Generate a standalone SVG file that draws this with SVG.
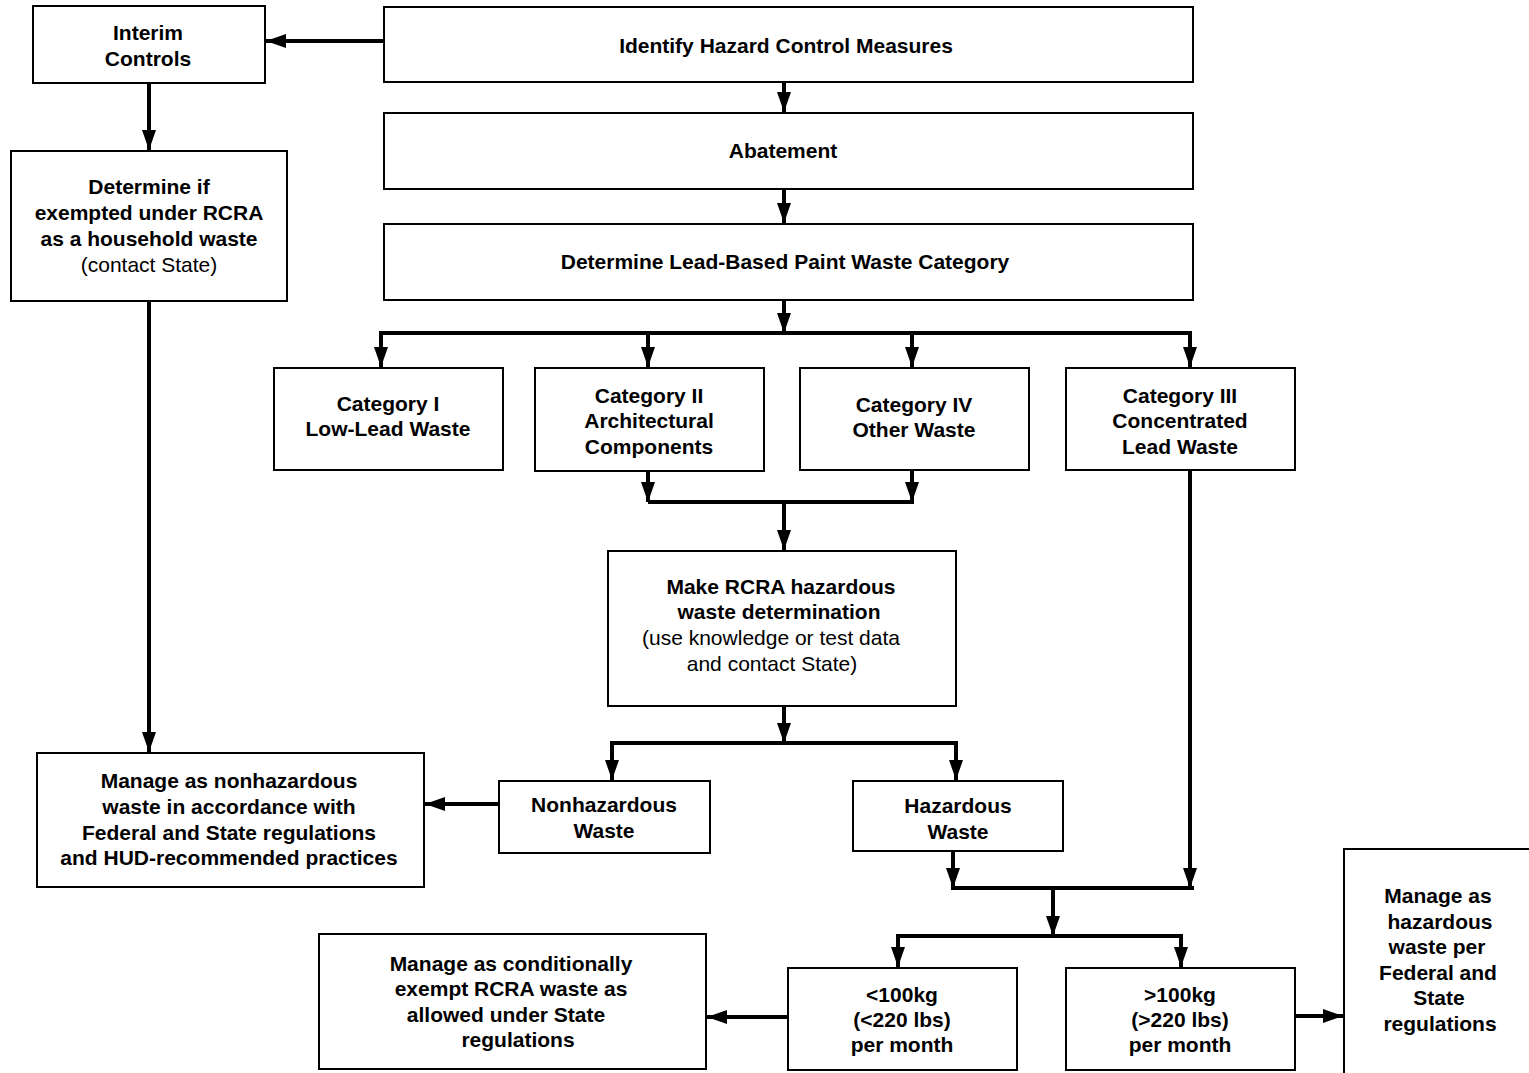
<svg xmlns="http://www.w3.org/2000/svg" width="1529" height="1073" viewBox="0 0 1529 1073">
<style>
.box{fill:#fff;stroke:#000;stroke-width:2}
.t{font-family:"Liberation Sans",Arial,sans-serif;font-size:21px;font-weight:bold;fill:#000;text-anchor:middle}
.r{font-weight:normal}
.c{fill:none;stroke:#000;stroke-width:4}
.ca{fill:none;stroke:#000;stroke-width:4;marker-end:url(#ah)}
</style>
<defs>
<marker id="ah" markerUnits="userSpaceOnUse" markerWidth="20" markerHeight="14" refX="20" refY="7" orient="auto">
<path d="M0,0 L20,7 L0,14 z" fill="#000"/>
</marker>
</defs>
<rect width="1529" height="1073" fill="#fff"/>
<g id="connectors">
<path class="ca" d="M384,41 L266,41"/>
<path class="ca" d="M784,82 L784,112"/>
<path class="ca" d="M784,189 L784,223"/>
<path class="ca" d="M784,300 L784,333"/>
<path class="c" d="M379,333 L1192,333"/>
<path class="ca" d="M381,333 L381,367"/>
<path class="ca" d="M648,333 L648,367"/>
<path class="ca" d="M912,333 L912,367"/>
<path class="ca" d="M1190,333 L1190,367"/>
<path class="ca" d="M149,83 L149,150"/>
<path class="ca" d="M149,301 L149,752"/>
<path class="ca" d="M648,471 L648,502"/>
<path class="ca" d="M912,470 L912,502"/>
<path class="c" d="M648,502 L914,502"/>
<path class="ca" d="M784,502 L784,550"/>
<path class="ca" d="M784,706 L784,743"/>
<path class="c" d="M610,743 L958,743"/>
<path class="ca" d="M612,743 L612,780"/>
<path class="ca" d="M956,743 L956,780"/>
<path class="ca" d="M499,804 L425,804"/>
<path class="ca" d="M1190,470 L1190,888"/>
<path class="ca" d="M953,851 L953,888"/>
<path class="c" d="M951,888 L1194,888"/>
<path class="ca" d="M1053,888 L1053,936"/>
<path class="c" d="M896,936 L1183,936"/>
<path class="ca" d="M898,936 L898,967"/>
<path class="ca" d="M1181,936 L1181,967"/>
<path class="ca" d="M788,1017 L707,1017"/>
<path class="ca" d="M1295,1016 L1343,1016"/>
</g>
<g id="interim"><rect class="box" x="33" y="6" width="232" height="77"/>
<text class="t" x="148" y="40">Interim</text><text class="t" x="148" y="66">Controls</text></g>
<g id="identify"><rect class="box" x="384" y="7" width="809" height="75"/>
<text class="t" x="786" y="53">Identify Hazard Control Measures</text></g>
<g id="abatement"><rect class="box" x="384" y="113" width="809" height="76"/>
<text class="t" x="783" y="158">Abatement</text></g>
<g id="lbp"><rect class="box" x="384" y="224" width="809" height="76"/>
<text class="t" x="785" y="269">Determine Lead-Based Paint Waste Category</text></g>
<g id="determine"><rect class="box" x="11" y="151" width="276" height="150"/>
<text class="t" x="149" y="194">Determine if</text>
<text class="t" x="149" y="220">exempted under RCRA</text>
<text class="t" x="149" y="246">as a household waste</text>
<text class="t r" x="149" y="272">(contact State)</text></g>
<g id="cat1"><rect class="box" x="274" y="368" width="229" height="102"/>
<text class="t" x="388" y="411">Category I</text><text class="t" x="388" y="436">Low-Lead Waste</text></g>
<g id="cat2"><rect class="box" x="535" y="368" width="229" height="103"/>
<text class="t" x="649" y="403">Category II</text><text class="t" x="649" y="428">Architectural</text><text class="t" x="649" y="454">Components</text></g>
<g id="cat4"><rect class="box" x="800" y="368" width="229" height="102"/>
<text class="t" x="914" y="412">Category IV</text><text class="t" x="914" y="437">Other Waste</text></g>
<g id="cat3"><rect class="box" x="1066" y="368" width="229" height="102"/>
<text class="t" x="1180" y="403">Category III</text><text class="t" x="1180" y="428">Concentrated</text><text class="t" x="1180" y="454">Lead Waste</text></g>
<g id="rcra"><rect class="box" x="608" y="551" width="348" height="155"/>
<text class="t" x="781" y="594">Make RCRA hazardous</text>
<text class="t" x="779" y="619">waste determination</text>
<text class="t r" x="771" y="645">(use knowledge or test data</text>
<text class="t r" x="772" y="671">and contact State)</text></g>
<g id="managenonhaz"><rect class="box" x="37" y="753" width="387" height="134"/>
<text class="t" x="229" y="788">Manage as nonhazardous</text>
<text class="t" x="229" y="814">waste in accordance with</text>
<text class="t" x="229" y="840">Federal and State regulations</text>
<text class="t" x="229" y="865">and HUD-recommended practices</text></g>
<g id="nonhaz"><rect class="box" x="499" y="781" width="211" height="72"/>
<text class="t" x="604" y="812">Nonhazardous</text><text class="t" x="604" y="838">Waste</text></g>
<g id="haz"><rect class="box" x="853" y="781" width="210" height="70"/>
<text class="t" x="958" y="813">Hazardous</text><text class="t" x="958" y="839">Waste</text></g>
<g id="managehaz"><rect class="box" x="1344" y="849" width="200" height="240"/>
<text class="t" x="1438" y="903">Manage as</text>
<text class="t" x="1440" y="929">hazardous</text>
<text class="t" x="1437" y="954">waste per</text>
<text class="t" x="1438" y="980">Federal and</text>
<text class="t" x="1439" y="1005">State</text>
<text class="t" x="1440" y="1031">regulations</text></g>
<g id="managecond"><rect class="box" x="319" y="934" width="387" height="135"/>
<text class="t" x="511" y="971">Manage as conditionally</text>
<text class="t" x="511" y="996">exempt RCRA waste as</text>
<text class="t" x="506" y="1022">allowed under State</text>
<text class="t" x="518" y="1047">regulations</text></g>
<g id="lt100"><rect class="box" x="788" y="968" width="229" height="102"/>
<text class="t" x="902" y="1002">&lt;100kg</text><text class="t" x="902" y="1027">(&lt;220 lbs)</text><text class="t" x="902" y="1052">per month</text></g>
<g id="gt100"><rect class="box" x="1066" y="968" width="229" height="102"/>
<text class="t" x="1180" y="1002">&gt;100kg</text><text class="t" x="1180" y="1027">(&gt;220 lbs)</text><text class="t" x="1180" y="1052">per month</text></g>
</svg>
